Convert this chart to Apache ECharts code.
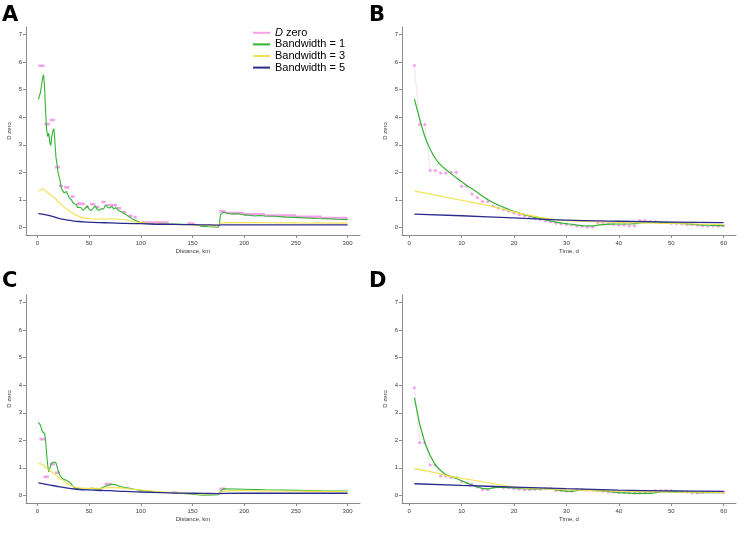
<!DOCTYPE html>
<html><head><meta charset="utf-8">
<script src="https://cdn.jsdelivr.net/npm/echarts@6/dist/echarts.min.js"></script>
<style>html,body{margin:0;padding:0;background:#fff}#c{width:750px;height:536px}</style>
</head><body><div id="c"></div>
<script>
// ---------- ticks ----------
var distTicks = [0, 50, 100, 150, 200, 250, 300];
var timeTicks = [0, 10, 20, 30, 40, 50, 60];
var yTicks = [0, 1, 2, 3, 4, 5, 6, 7];

// ---------- Panel A: distance, km ----------
var aDzStart = [1, 7, 12, 17, 21, 26, 32, 38, 42, 47, 51, 56, 62, 67, 77, 82, 88, 93, 100, 145, 176, 182, 200, 220, 250, 275];
var aDzEnd   = [7, 12, 17, 22, 25, 31, 36, 42, 46, 50, 56, 60, 66, 77, 81, 86, 92, 96, 127, 152, 182, 200, 220, 250, 275, 300];
var aDzVal   = [5.87, 3.75, 3.9, 2.18, 1.5, 1.45, 1.12, 0.86, 0.85, 0.74, 0.84, 0.73, 0.92, 0.8, 0.69, 0.55, 0.42, 0.37, 0.17, 0.14, 0.58, 0.52, 0.47, 0.43, 0.38, 0.34];

var aBw1X = [1,3,5,6,7,8,9,10,11,12,13,14,15,16,17,18,19,20,21,22,23,24,25,26,27,28,29,30,31,32,33,34,35,36,37,38,39,40,42,44,46,48,50,52,54,56,58,60,62,64,66,68,70,72,74,76,78,80,82,84,86,88,90,92,95,98,100,105,110,120,130,140,150,155,158,165,172,175,176,177,178,180,185,190,195,200,205,210,215,220,230,240,250,260,270,280,290,300];
var aBw1Y = [4.65,4.9,5.4,5.55,5.1,4.2,3.55,3.3,3.42,3.1,2.97,3.3,3.5,3.58,3.1,2.55,2.3,2.0,1.95,1.7,1.45,1.35,1.42,1.25,1.2,1.3,1.32,1.15,1.05,1.1,1.0,0.92,0.98,0.85,0.8,0.82,0.72,0.7,0.72,0.62,0.68,0.78,0.66,0.6,0.7,0.78,0.64,0.62,0.68,0.66,0.82,0.72,0.7,0.76,0.66,0.72,0.62,0.58,0.55,0.5,0.45,0.4,0.35,0.3,0.25,0.2,0.17,0.14,0.13,0.12,0.12,0.11,0.1,0.08,0.04,0.02,0.01,0.0,0.1,0.45,0.5,0.55,0.5,0.48,0.49,0.45,0.44,0.41,0.43,0.41,0.4,0.37,0.36,0.34,0.32,0.31,0.29,0.28];

var aBw3X = [1,3,5,8,12,16,22,32,42,50,60,70,80,88,93,100,110,120,140,160,175,177,185,200,250,300];
var aBw3Y = [1.32,1.36,1.4,1.32,1.2,1.1,0.86,0.56,0.37,0.31,0.3,0.3,0.29,0.25,0.2,0.17,0.13,0.12,0.1,0.07,0.06,0.15,0.17,0.17,0.16,0.15];

var aBw5X = [1,5,10,16,24,32,40,48,60,70,85,100,120,140,160,175,180,200,250,300];
var aBw5Y = [0.5,0.48,0.44,0.38,0.3,0.25,0.21,0.19,0.17,0.16,0.14,0.13,0.11,0.1,0.09,0.08,0.09,0.09,0.09,0.09];

// ---------- Panel B: time, d ----------
var bDzX = [1,2,3,4,5,6,7,8,9,10,11,12,13,14,15,16,17,18,19,20,21,22,23,24,25,26,27,28,29,30,31,32,33,34,35,36,37,38,39,40,41,42,43,44,45,46,47,48,49,50,51,52,53,54,55,56,57,58,59,60];
var bDzY = [5.88,3.74,3.74,2.06,2.06,1.97,1.97,2.0,2.0,1.49,1.49,1.21,1.08,0.94,0.94,0.77,0.7,0.64,0.58,0.52,0.46,0.42,0.38,0.32,0.28,0.23,0.2,0.15,0.12,0.1,0.08,0.05,0.04,0.0,0.0,0.17,0.17,0.13,0.1,0.08,0.08,0.05,0.05,0.25,0.25,0.21,0.21,0.17,0.17,0.15,0.14,0.13,0.1,0.09,0.07,0.06,0.05,0.05,0.05,0.06];

var bBw1X = [1,2,3,4,5,6,7,8,9,10,11,12,13,14,15,16,17,18,19,20,21,22,23,24,25,26,27,28,29,30,31,32,33,34,35,36,37,38,39,40,42,43,44,46,48,50,52,54,56,58,60];
var bBw1Y = [4.67,3.95,3.3,2.85,2.5,2.27,2.1,1.95,1.8,1.66,1.52,1.4,1.27,1.13,1.01,0.9,0.81,0.73,0.65,0.58,0.52,0.46,0.41,0.36,0.32,0.27,0.23,0.19,0.16,0.13,0.11,0.08,0.06,0.05,0.05,0.08,0.1,0.11,0.12,0.12,0.12,0.13,0.16,0.18,0.17,0.16,0.14,0.11,0.08,0.07,0.05];

var bBw3X = [1,5,10,15,20,25,30,35,40,45,50,55,60];
var bBw3Y = [1.32,1.17,0.98,0.79,0.56,0.36,0.24,0.2,0.17,0.16,0.14,0.12,0.1];

var bBw5X = [1,10,20,30,40,50,60];
var bBw5Y = [0.48,0.42,0.34,0.26,0.22,0.19,0.17];

// ---------- Panel C: distance, km ----------
var cDzStart = [2, 6, 12, 17, 59, 65, 130, 176];
var cDzEnd   = [8, 11, 17, 22, 63, 72, 135, 182];
var cDzVal   = [2.04, 0.67, 1.13, 0.82, 0.18, 0.41, 0.1, 0.24];

var cBw1X = [1,3,5,6,7,8,9,10,11,12,13,14,16,18,19,20,22,24,26,28,30,32,34,36,40,45,50,53,56,60,64,68,72,76,80,85,90,95,100,110,120,130,140,150,160,170,175,177,180,190,200,220,250,275,300];
var cBw1Y = [2.65,2.55,2.3,2.32,2.25,2.0,1.5,1.1,0.85,0.95,1.1,1.18,1.21,1.18,1.05,0.9,0.72,0.62,0.57,0.55,0.5,0.45,0.35,0.27,0.24,0.23,0.24,0.26,0.22,0.22,0.3,0.36,0.4,0.38,0.32,0.28,0.25,0.21,0.18,0.14,0.11,0.09,0.07,0.04,0.0,0.01,0.02,0.15,0.24,0.23,0.22,0.2,0.18,0.16,0.15];

var cBw3X = [1,4,8,12,16,22,28,34,40,50,60,70,80,90,100,115,130,145,160,175,178,190,220,260,300];
var cBw3Y = [1.15,1.14,1.02,0.9,0.79,0.61,0.45,0.33,0.27,0.25,0.25,0.28,0.27,0.23,0.19,0.14,0.1,0.07,0.05,0.06,0.14,0.17,0.16,0.15,0.14];

var cBw5X = [1,10,22,38,55,70,85,100,120,140,160,175,180,220,300];
var cBw5Y = [0.45,0.39,0.31,0.22,0.19,0.17,0.14,0.12,0.1,0.08,0.07,0.06,0.07,0.075,0.075];

// ---------- Panel D: time, d ----------
var dDzX = bDzX;
var dDzY = [3.91,1.91,1.91,1.1,1.1,0.7,0.7,0.65,0.65,0.5,0.45,0.4,0.3,0.2,0.2,0.3,0.3,0.27,0.27,0.25,0.22,0.2,0.2,0.22,0.22,0.25,0.25,0.17,0.17,0.15,0.15,0.22,0.22,0.18,0.18,0.17,0.15,0.12,0.12,0.1,0.09,0.08,0.07,0.08,0.08,0.1,0.17,0.17,0.17,0.17,0.15,0.13,0.12,0.08,0.08,0.1,0.12,0.12,0.12,0.12];

var dBw1X = [1,2,3,4,5,6,7,8,9,10,11,12,13,14,15,16,17,18,20,22,24,26,27,28,30,31,32,33,35,37,40,43,46,48,50,53,55,57,60];
var dBw1Y = [3.55,2.6,1.91,1.45,1.1,0.9,0.75,0.68,0.61,0.53,0.45,0.37,0.3,0.25,0.23,0.27,0.3,0.29,0.27,0.24,0.22,0.24,0.24,0.2,0.15,0.14,0.17,0.2,0.18,0.16,0.1,0.07,0.07,0.12,0.13,0.12,0.1,0.1,0.1];

var dBw3X = [1,5,8,10,14,18,21,25,30,35,40,50,60];
var dBw3Y = [0.97,0.82,0.68,0.62,0.49,0.36,0.28,0.24,0.2,0.17,0.15,0.12,0.1];

var dBw5X = [1,10,20,30,40,50,60];
var dBw5Y = [0.42,0.36,0.3,0.24,0.19,0.16,0.14];

// ---------- styling ----------
var PINK = '#f2a2e6', GREEN = '#30b530', YELLOW = '#f3e04c', BLUE = '#2b2b8e';
var AX = '#8c8c8c', TXT = '#3a3a3a';

function pts(xs, ys) { return xs.map(function (x, i) { return [x, ys[i]]; }); }
function dashes(s, e, v) {
  var out = [];
  for (var i = 0; i < s.length; i++) { out.push([s[i], v[i]]); out.push([e[i], v[i]]); out.push([e[i], '-']); }
  return out;
}

var grids = [
  { left: 26, top: 27, width: 334, height: 208 },
  { left: 402, top: 27, width: 334, height: 208 },
  { left: 26, top: 295, width: 334, height: 208 },
  { left: 402, top: 295, width: 334, height: 208 }
];
var isDist = [true, false, true, false];

var xAxes = [], yAxes = [];
for (var g = 0; g < 4; g++) {
  var ticks = isDist[g] ? distTicks : timeTicks;
  xAxes.push({
    type: 'value', gridIndex: g,
    min: isDist[g] ? -10.96 : -1.36, max: isDist[g] ? 311.96 : 62.36,
    name: isDist[g] ? 'Distance, km' : 'Time, d',
    nameLocation: 'middle', nameGap: 13,
    nameTextStyle: { fontSize: 6, color: TXT, fontFamily: 'Liberation Sans' },
    axisLine: { show: true, onZero: false, lineStyle: { color: AX, width: 1 } },
    axisTick: { show: true, length: 3, customValues: ticks, lineStyle: { color: AX } },
    axisLabel: { customValues: ticks, fontSize: 6, color: TXT, margin: 5, fontFamily: 'Liberation Sans' },
    splitLine: { show: false }
  });
  yAxes.push({
    type: 'value', gridIndex: g, min: -0.28, max: 7.28,
    name: 'D zero', nameLocation: 'middle', nameGap: 14,
    nameTextStyle: { fontSize: 6, color: TXT, fontFamily: 'Liberation Sans' },
    axisLine: { show: true, onZero: false, lineStyle: { color: AX, width: 1 } },
    axisTick: { show: true, length: 3, customValues: yTicks, lineStyle: { color: AX } },
    axisLabel: { customValues: yTicks, fontSize: 6, color: TXT, margin: 4, fontFamily: 'Liberation Sans' },
    splitLine: { show: false }
  });
}

function lineS(name, g, data, color, width, smooth) {
  return { name: name, type: 'line', xAxisIndex: g, yAxisIndex: g, data: data, showSymbol: false, symbol: 'none',
    smooth: !!smooth, lineStyle: { color: color, width: width }, itemStyle: { color: color }, silent: true, z: 3 };
}
function dashS(g, s, e, v) {
  return { name: 'D zero', type: 'line', xAxisIndex: g, yAxisIndex: g, data: dashes(s, e, v), symbol: 'none',
    connectNulls: false, lineStyle: { color: PINK, width: 2.6, cap: 'butt' }, itemStyle: { color: PINK }, silent: true, z: 2 };
}
function pointS(g, xs, ys) {
  return { name: 'D zero', type: 'line', xAxisIndex: g, yAxisIndex: g, data: pts(xs, ys),
    symbol: 'circle', symbolSize: 3, showSymbol: true, showAllSymbol: true,
    lineStyle: { color: PINK, width: 0.6, opacity: 0.6 }, itemStyle: { color: PINK }, silent: true, z: 2 };
}

var series = [
  dashS(0, aDzStart, aDzEnd, aDzVal),
  lineS('Bandwidth = 1', 0, pts(aBw1X, aBw1Y), GREEN, 1.1),
  lineS('Bandwidth = 3', 0, pts(aBw3X, aBw3Y), YELLOW, 1.1, true),
  lineS('Bandwidth = 5', 0, pts(aBw5X, aBw5Y), BLUE, 1.3, true),
  pointS(1, bDzX, bDzY),
  lineS('Bandwidth = 1', 1, pts(bBw1X, bBw1Y), GREEN, 1.2, true),
  lineS('Bandwidth = 3', 1, pts(bBw3X, bBw3Y), YELLOW, 1.1, true),
  lineS('Bandwidth = 5', 1, pts(bBw5X, bBw5Y), BLUE, 1.3, true),
  dashS(2, cDzStart, cDzEnd, cDzVal),
  lineS('Bandwidth = 1', 2, pts(cBw1X, cBw1Y), GREEN, 1.1),
  lineS('Bandwidth = 3', 2, pts(cBw3X, cBw3Y), YELLOW, 1.1, true),
  lineS('Bandwidth = 5', 2, pts(cBw5X, cBw5Y), BLUE, 1.3, true),
  pointS(3, dDzX, dDzY),
  lineS('Bandwidth = 1', 3, pts(dBw1X, dBw1Y), GREEN, 1.2),
  lineS('Bandwidth = 3', 3, pts(dBw3X, dBw3Y), YELLOW, 1.1, true),
  lineS('Bandwidth = 5', 3, pts(dBw5X, dBw5Y), BLUE, 1.3, true)
];

var letterStyle = { fontSize: 21, fontWeight: 900, color: '#000', fontFamily: 'DejaVu Sans' };
var chart = echarts.init(document.getElementById('c'), null, { renderer: 'canvas' });
chart.setOption({
  animation: false,
  backgroundColor: '#fff',
  title: [
    { text: 'A', left: 2, top: 5, padding: 0, textStyle: letterStyle },
    { text: 'B', left: 369, top: 5, padding: 0, textStyle: letterStyle },
    { text: 'C', left: 2, top: 271, padding: 0, textStyle: letterStyle },
    { text: 'D', left: 369, top: 271, padding: 0, textStyle: letterStyle }
  ],
  legend: {
    data: ['D zero', 'Bandwidth = 1', 'Bandwidth = 3', 'Bandwidth = 5'],
    orient: 'vertical', left: 253, top: 27, padding: 0, itemGap: 0,
    itemWidth: 17, itemHeight: 2, icon: 'rect', selectedMode: false,
    formatter: function (n) { return n === 'D zero' ? '{i|D} zero' : n; },
    textStyle: { fontSize: 11, color: '#000', fontFamily: 'Liberation Sans', lineHeight: 11.6,
      rich: { i: { fontStyle: 'italic', fontSize: 11, fontFamily: 'Liberation Sans', lineHeight: 11.6, color: '#000' } } }
  },
  grid: grids,
  xAxis: xAxes,
  yAxis: yAxes,
  series: series
});
</script>
</body></html>
